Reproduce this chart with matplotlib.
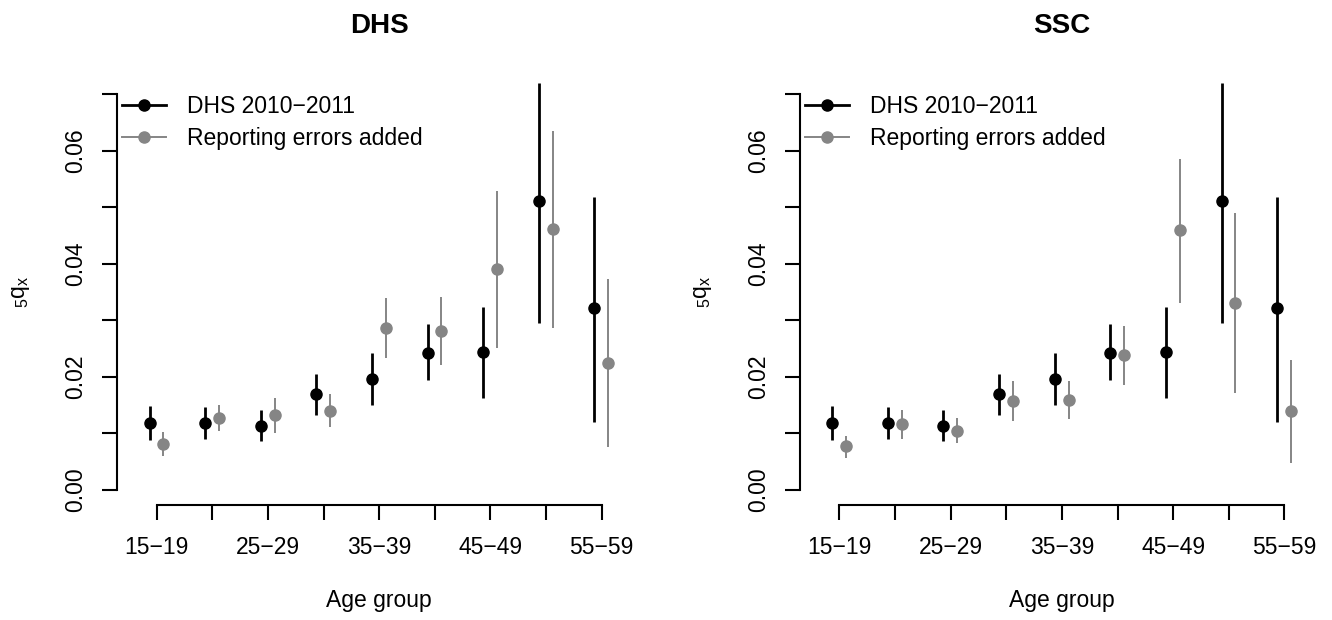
import numpy as np
import matplotlib
matplotlib.use('Agg')
import matplotlib.pyplot as plt
from matplotlib.lines import Line2D

plt.rcParams['font.family'] = ['Liberation Sans', 'DejaVu Sans']
plt.rcParams['mathtext.default'] = 'regular'

# age groups (one tick per group, every other one labelled)
age_groups = ['15\u221219', '20\u221224', '25\u221229', '30\u221234', '35\u221239',
              '40\u221244', '45\u221249', '50\u221254', '55\u221259']

# DHS 2010-2011 estimates of 5qx with interval bounds (same in both panels)
dhs_q = [0.0119, 0.0119, 0.0114, 0.0169, 0.0196, 0.0243, 0.0244, 0.0511, 0.0321]
dhs_lo = [0.0088, 0.0090, 0.0087, 0.0133, 0.0150, 0.0195, 0.0163, 0.0295, 0.0121]
dhs_hi = [0.0149, 0.0147, 0.0142, 0.0205, 0.0242, 0.0293, 0.0324, 0.0720, 0.0518]

# reporting errors added, DHS panel
rep_dhs_q = [0.0081, 0.0128, 0.0132, 0.0140, 0.0287, 0.0281, 0.0390, 0.0461, 0.0225]
rep_dhs_lo = [0.0060, 0.0104, 0.0101, 0.0111, 0.0233, 0.0221, 0.0251, 0.0286, 0.0076]
rep_dhs_hi = [0.0102, 0.0150, 0.0162, 0.0169, 0.0339, 0.0341, 0.0528, 0.0634, 0.0373]

# reporting errors added, SSC panel
rep_ssc_q = [0.0077, 0.0116, 0.0105, 0.0157, 0.0159, 0.0238, 0.0460, 0.0331, 0.0139]
rep_ssc_lo = [0.0057, 0.0091, 0.0083, 0.0122, 0.0126, 0.0186, 0.0330, 0.0172, 0.0048]
rep_ssc_hi = [0.0096, 0.0141, 0.0127, 0.0193, 0.0193, 0.0290, 0.0586, 0.0489, 0.0229]

panels = [
    ('DHS', rep_dhs_q, rep_dhs_lo, rep_dhs_hi),
    ('SSC', rep_ssc_q, rep_ssc_lo, rep_ssc_hi),
]

GREY = '#858585'
FS = 16.5
W, H = 1332, 620

fig = plt.figure(figsize=(W / 100, H / 100), dpi=100)

x = np.arange(1, len(age_groups) + 1)
lefts = [117.3, 800.0]
ax_w, ax_top, ax_bot = 523.8, 78.3, 504.7


def draw(ax, q, lo, hi, xs, color, lw):
    q, lo, hi = np.array(q), np.array(lo), np.array(hi)
    ax.errorbar(xs, q, yerr=[q - lo, hi - q], fmt='o', color=color, ecolor=color,
                elinewidth=lw, markersize=8, capsize=0, clip_on=False)


for left, (title, rq, rlo, rhi) in zip(lefts, panels):
    ax = fig.add_axes([left / W, 1 - ax_bot / H, ax_w / W, (ax_bot - ax_top) / H])

    draw(ax, dhs_q, dhs_lo, dhs_hi, x - 0.13, 'black', 2.0)
    draw(ax, rq, rlo, rhi, x + 0.12, GREY, 1.4)

    ax.set_xlim(0.291, 9.709)
    ax.set_ylim(-0.0026, 0.0728)

    for s in ['top', 'right']:
        ax.spines[s].set_visible(False)
    for s in ['left', 'bottom']:
        ax.spines[s].set_linewidth(1.5)
    ax.spines['left'].set_bounds(0, 0.07)
    ax.spines['bottom'].set_bounds(1, 9)

    ax.set_xticks(x)
    ax.set_xticklabels([a if i % 2 == 0 else '' for i, a in enumerate(age_groups)])
    yt = np.round(np.arange(0, 0.071, 0.01), 2)
    ax.set_yticks(yt)
    ax.set_yticklabels(['%.2f' % v if i % 2 == 0 else '' for i, v in enumerate(yt)])
    ax.tick_params(axis='both', direction='out', length=10.8, width=1.5, labelsize=FS)
    ax.tick_params(axis='x', pad=12)
    ax.tick_params(axis='y', pad=11)
    plt.setp(ax.get_yticklabels(), rotation=90, va='center')

    handles = [
        Line2D([], [], color='black', lw=2.0, marker='o', markersize=8),
        Line2D([], [], color=GREY, lw=1.4, marker='o', markersize=8),
    ]
    ax.legend(handles, ['DHS 2010\u22122011', 'Reporting errors added'],
              loc='upper left', bbox_to_anchor=(5 / ax_w, (ax_bot - 95) / (ax_bot - ax_top)),
              frameon=False, fontsize=FS, handlelength=1.92, handletextpad=0.9,
              borderpad=0, borderaxespad=0, labelspacing=0.38)

    cx = (left + ax_w / 2) / W
    fig.text(cx, 1 - 32.7 / H, title, ha='center', va='baseline',
             fontsize=20, fontweight='bold')
    fig.text(cx, 1 - 607 / H, 'Age group', ha='center', va='baseline', fontsize=FS)
    fig.text((left - 97) / W, 1 - 292 / H, r'${}_{5}q_{x}$', ha='center', va='center',
             rotation=90, fontsize=FS)

fig.savefig('out.png', dpi=100)
